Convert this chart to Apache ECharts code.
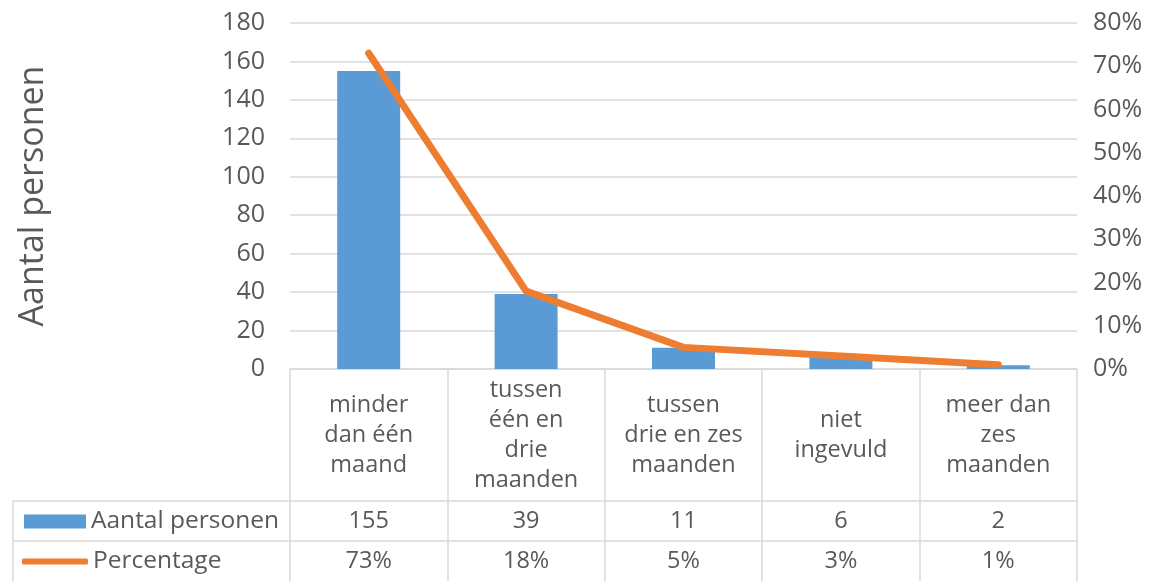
<!DOCTYPE html>
<html>
<head>
<meta charset="utf-8">
<script src="https://cdn.jsdelivr.net/npm/echarts@6/dist/echarts.min.js"></script>
<style>
  html, body { margin: 0; padding: 0; background: #fff; }
  #chart { width: 1159px; height: 581px; }
</style>
</head>
<body>
<div id="chart"></div>
<script>
  // categorieën en waarden uit de tabel
  const categories = ['minder\ndan één\nmaand', 'tussen\néén en\ndrie\nmaanden', 'tussen\ndrie en zes\nmaanden', 'niet\ningevuld', 'meer dan\nzes\nmaanden'];
  const aantal = [155, 39, 11, 6, 2];
  const percentage = [73, 18, 5, 3, 1];
  const leftTicks = { min: 0, max: 180, interval: 20 };
  const rightTicks = { min: 0, max: 80, interval: 10 };

  const txt = '#595959';
  const border = '#d9d9d9';
  const font = 'Open Sans';
  const fs = 23.5;

  const myChart = echarts.init(document.getElementById('chart'));

  const legendText = { fontSize: 24.5, color: txt, fontFamily: font, lineHeight: 24 };

  const option = {
    animation: false,
    textStyle: { fontFamily: font },
    grid: { left: 290, right: 82, top: 23, bottom: 212, outerBoundsMode: 'none' },
    legend: [{
      left: 24,
      top: 509,
      padding: 0,
      itemWidth: 62,
      itemHeight: 14,
      itemGap: 0,
      textStyle: legendText,
      data: [{ name: 'Aantal personen', icon: 'rect' }]
    }, {
      left: 22,
      top: 549,
      padding: 0,
      itemWidth: 66,
      itemHeight: 6,
      itemGap: 0,
      textStyle: legendText,
      data: [{ name: 'Percentage', icon: 'roundRect' }]
    }],
    xAxis: [{
      type: 'category',
      data: categories,
      axisLine: { lineStyle: { color: border, width: 1.5 } },
      axisTick: { show: true, length: 212, lineStyle: { color: border, width: 1.5 } },
      axisLabel: { fontSize: fs, color: txt, lineHeight: 30, margin: 66, verticalAlign: 'middle', interval: 0 }
    }, {
      type: 'category',
      data: aantal.map(String),
      position: 'bottom',
      axisLine: { show: false },
      axisTick: { show: false },
      axisLabel: { fontSize: fs, color: txt, margin: 152, verticalAlign: 'middle', interval: 0 }
    }, {
      type: 'category',
      data: percentage.map(v => v + '%'),
      position: 'bottom',
      axisLine: { show: false },
      axisTick: { show: false },
      axisLabel: { fontSize: fs, color: txt, margin: 192, verticalAlign: 'middle', interval: 0 }
    }],
    yAxis: [{
      type: 'value',
      min: leftTicks.min,
      max: leftTicks.max,
      interval: leftTicks.interval,
      name: 'Aantal personen',
      nameLocation: 'middle',
      nameRotate: 90,
      nameGap: 240,
      nameTextStyle: { fontSize: 34, color: txt, fontFamily: font },
      axisLine: { show: false },
      axisTick: { show: false },
      axisLabel: { fontSize: 25, color: txt, margin: 25 },
      splitLine: { lineStyle: { color: border, width: 1.5 } }
    }, {
      type: 'value',
      min: rightTicks.min,
      max: rightTicks.max,
      interval: rightTicks.interval,
      position: 'right',
      axisLine: { show: false },
      axisTick: { show: false },
      axisLabel: { fontSize: 25, color: txt, margin: 16, formatter: '{value}%' },
      splitLine: { show: false }
    }],
    series: [{
      name: 'Aantal personen',
      type: 'bar',
      data: aantal,
      barWidth: 63,
      itemStyle: { color: '#5B9BD5' }
    }, {
      name: 'Percentage',
      type: 'line',
      yAxisIndex: 1,
      data: percentage,
      symbol: 'none',
      lineStyle: { color: '#ED7D31', width: 7, cap: 'round', join: 'round' },
      itemStyle: { color: '#ED7D31' }
    }],
    graphic: [
      // tabelranden onder de legendakolom
      { type: 'line', shape: { x1: 13, y1: 501, x2: 1077, y2: 501 }, style: { stroke: border, lineWidth: 1.5 } },
      { type: 'line', shape: { x1: 13, y1: 541, x2: 1077, y2: 541 }, style: { stroke: border, lineWidth: 1.5 } },
      { type: 'line', shape: { x1: 13, y1: 501, x2: 13, y2: 581 }, style: { stroke: border, lineWidth: 1.5 } }
    ]
  };

  myChart.setOption(option);
</script>
</body>
</html>
